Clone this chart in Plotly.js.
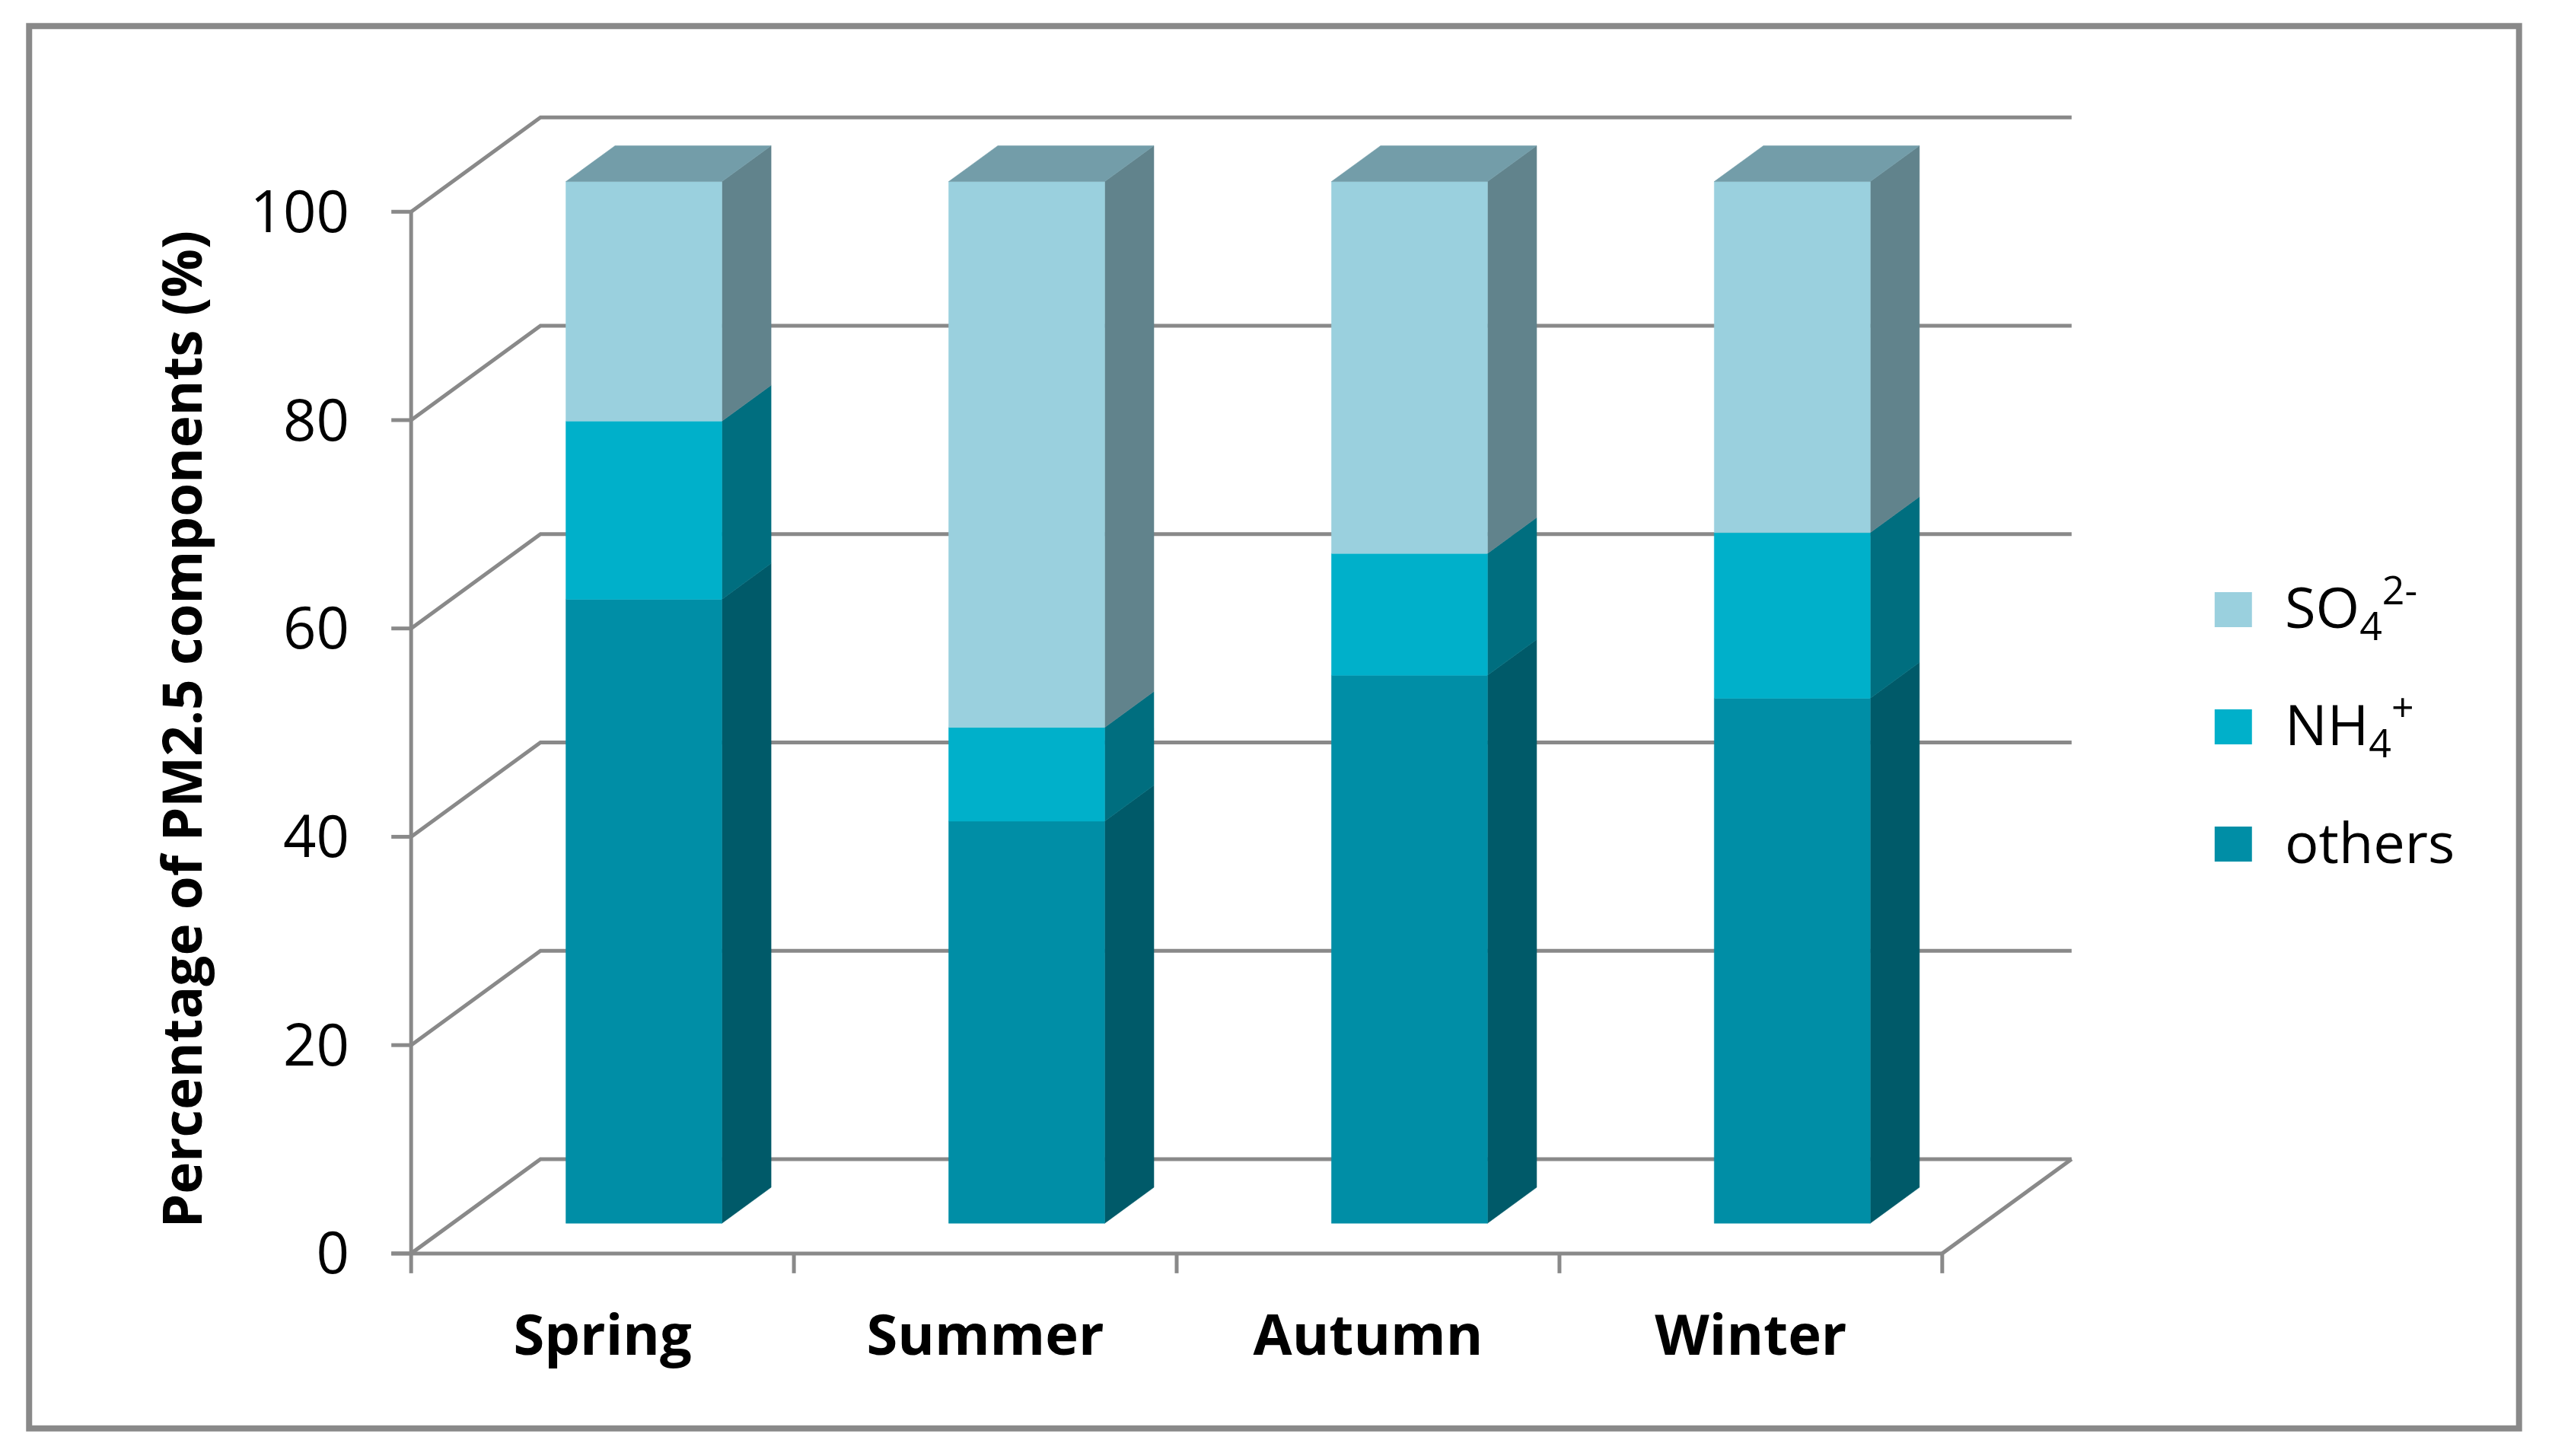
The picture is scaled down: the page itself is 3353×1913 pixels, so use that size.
<!DOCTYPE html>
<html>
<head>
<meta charset="utf-8">
<script src="https://cdn.plot.ly/plotly-3.0.1.min.js"></script>
<style>html,body{margin:0;padding:0;background:#fff;}#chart{width:3353px;height:1913px;}</style>
</head>
<body>
<div id="chart"></div>
<script>
// ---- data ----
const seasons = ['Spring', 'Summer', 'Autumn', 'Winter'];
const others = [59.9, 38.6, 52.6, 50.4];
const nh4 = [17.1, 9.0, 11.7, 15.9];
const so4 = [23.0, 52.4, 35.7, 33.7];
const yTicks = [0, 20, 40, 60, 80, 100];
const seriesNames = ['others', 'NH<sub>4</sub><sup>+</sup>', 'SO<sub>4</sub><sup>2-</sup>'];
const yTitle = 'Percentage of PM2.5 components (%)';

// ---- styles ----
const frontColors = ['#008EA6', '#00B0CA', '#9AD0DE'];
const sideColors = ['#005A69', '#006E7F', '#61838C'];
const topColor = '#739DA9';
const gridColor = '#898989';

// ---- geometry (pseudo-3D) ----
const W = 3353, H = 1913;
const PXU = 503, PYU = 13.69;       // pixels per x unit / y unit
const X0PX = 540, Y0PX = 1647;      // pixel of x=-0.5 and y=0 on the front plane
const DX = 0.338, DY = 9.06;        // full depth offset in data units
const F0 = 0.32, F1 = 0.70;         // bar depth start/end fraction
const BW = 0.4076;                  // bar front width (x units)
const xr = [-0.56, 3.9], yr = [-2.2, 112];

const l = X0PX + (xr[0] + 0.5) * PXU;
const plotW = (xr[1] - xr[0]) * PXU;
const r = W - l - plotW;
const t = Y0PX - yr[1] * PYU;
const plotH = (yr[1] - yr[0]) * PYU;
const b = H - t - plotH;
const paperX = px => (px - l) / plotW;
const paperY = py => (t + plotH - py) / plotH;

const traces = [];
const lineStyle = {color: gridColor, width: 5};
function addLine(xs, ys) {
  traces.push({type: 'scatter', mode: 'lines', x: xs, y: ys, line: lineStyle,
    hoverinfo: 'skip', showlegend: false});
}
// back wall gridlines with left-wall diagonals
{
  const xs = [], ys = [];
  yTicks.forEach(v => { xs.push(-0.5, -0.5 + DX, seasons.length - 0.5 + DX, null); ys.push(v, v + DY, v + DY, null); });
  addLine(xs, ys);
}
// floor right edge
addLine([seasons.length - 0.5, seasons.length - 0.5 + DX], [0, DY]);
// front y axis line + ticks
addLine([-0.5, -0.5], [0, yTicks[yTicks.length - 1]]);
{
  const xs = [], ys = [];
  yTicks.forEach(v => { xs.push(-0.5 - 26 / PXU, -0.5, null); ys.push(v, v, null); });
  addLine(xs, ys);
}
// front x axis line + boundary ticks
addLine([-0.5 - 26 / PXU, seasons.length - 0.5], [0, 0]);
{
  const xs = [], ys = [];
  for (let k = 0; k <= seasons.length; k++) { xs.push(k - 0.5, k - 0.5, null); ys.push(0, -26 / PYU, null); }
  addLine(xs, ys);
}

function poly(xs, ys, color) {
  traces.push({type: 'scatter', mode: 'lines', x: xs, y: ys, fill: 'toself', fillcolor: color,
    line: {color: color, width: 0.5}, hoverinfo: 'skip', showlegend: false});
}
// bars
const stacks = [others, nh4, so4];
const D = F1 - F0;
seasons.forEach((s, i) => {
  let cum = 0;
  const xl = i + F0 * DX - BW / 2, xrr = xl + BW;
  stacks.forEach((arr, k) => {
    const yb = F0 * DY + cum, yt = F0 * DY + cum + arr[i];
    // side
    poly([xrr, xrr + D * DX, xrr + D * DX, xrr, xrr], [yb, yb + D * DY, yt + D * DY, yt, yb], sideColors[k]);
    // front
    poly([xl, xrr, xrr, xl, xl], [yb, yb, yt, yt, yb], frontColors[k]);
    if (k === stacks.length - 1) {
      poly([xl, xrr, xrr + D * DX, xl + D * DX, xl], [yt, yt, yt + D * DY, yt + D * DY, yt], topColor);
    }
    cum += arr[i];
  });
});

// legend (custom, top to bottom: SO4, NH4, others)
const legendRows = [801, 955, 1109];
const shapes = [];
const annotations = [];
[2, 1, 0].forEach((k, row) => {
  const cy = legendRows[row];
  shapes.push({type: 'rect', xref: 'paper', yref: 'paper',
    x0: paperX(2910), x1: paperX(2959), y0: paperY(cy + 23), y1: paperY(cy - 23),
    fillcolor: frontColors[k], line: {width: 0}});
  annotations.push({xref: 'paper', yref: 'paper', x: paperX(3000), y: paperY(cy - 4),
    xanchor: 'left', yanchor: 'middle', showarrow: false, text: seriesNames[k],
    font: {family: 'Open Sans', size: 74, color: '#000'}});
});
// y title
annotations.push({xref: 'paper', yref: 'paper', x: paperX(237), y: paperY(958),
  xanchor: 'center', yanchor: 'middle', showarrow: false, textangle: -90, text: yTitle,
  font: {family: 'Open Sans', size: 71, color: '#000', weight: 'bold'}});
// outer frame
shapes.push({type: 'rect', xref: 'paper', yref: 'paper',
  x0: paperX(38), x1: paperX(3310), y0: paperY(1877), y1: paperY(34),
  line: {color: gridColor, width: 8}, fillcolor: 'rgba(0,0,0,0)'});

const layout = {
  width: W, height: H, autosize: false,
  margin: {l: l, r: r, t: t, b: b, pad: 0},
  paper_bgcolor: '#fff', plot_bgcolor: '#fff',
  showlegend: false,
  xaxis: {range: xr, tickvals: seasons.map((s, i) => i), ticktext: seasons,
    showgrid: false, zeroline: false, showline: false, ticks: '', ticklabelstandoff: 28,
    tickfont: {family: 'Open Sans', size: 74, color: '#000', weight: 'bold'}, fixedrange: true},
  yaxis: {range: yr, tickvals: yTicks, ticktext: yTicks.map(String),
    showgrid: false, zeroline: false, showline: false, ticks: '', ticklabelstandoff: 50,
    tickfont: {family: 'Open Sans', size: 76, color: '#000'}, fixedrange: true},
  shapes: shapes,
  annotations: annotations
};
Plotly.newPlot('chart', traces, layout, {displayModeBar: false, staticPlot: true});
</script>
</body>
</html>
